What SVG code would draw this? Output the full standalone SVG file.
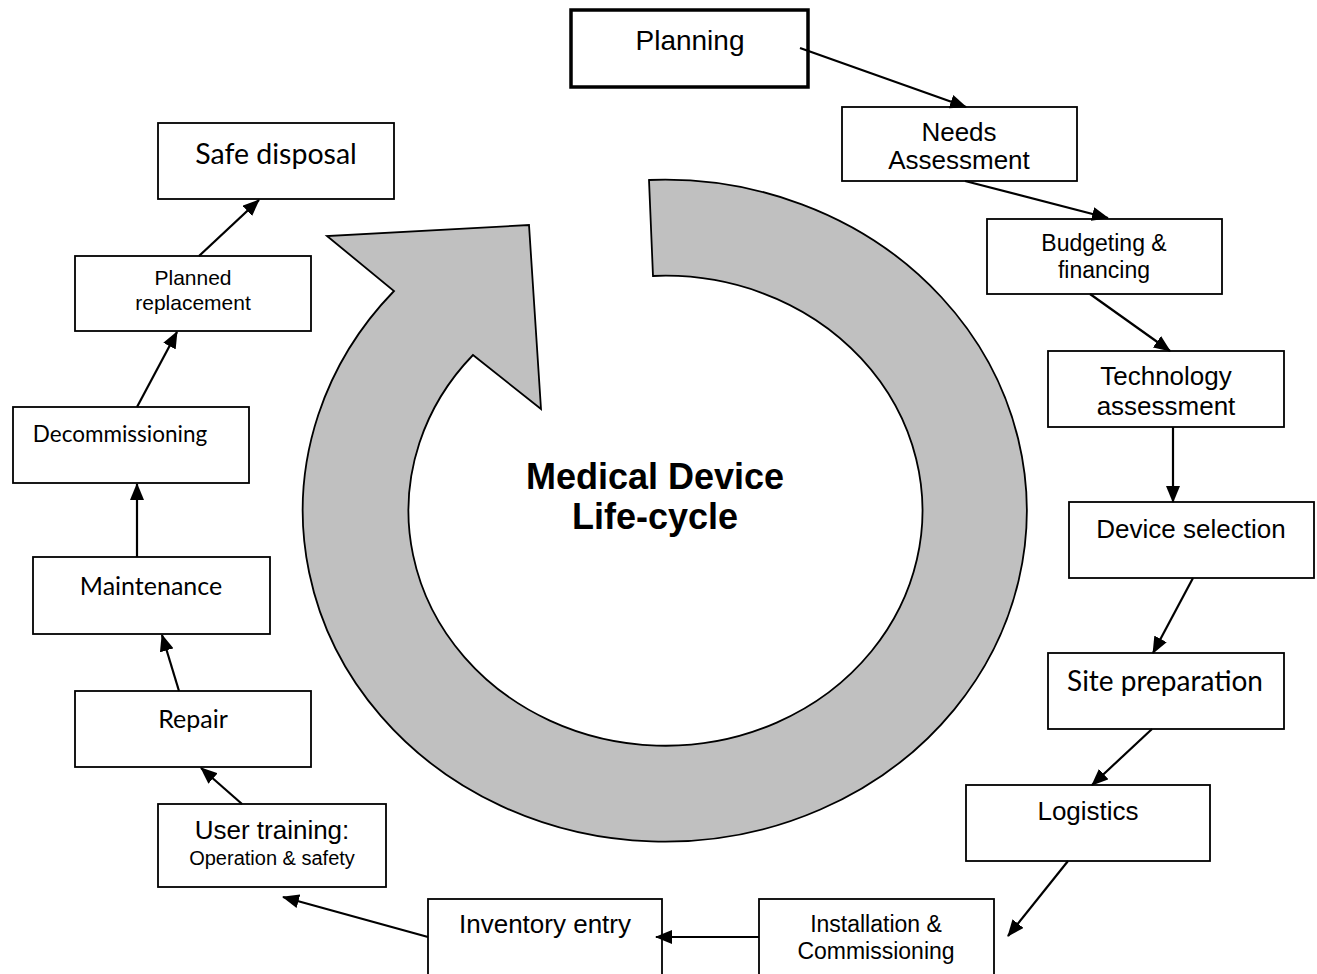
<svg xmlns="http://www.w3.org/2000/svg" width="1317" height="974" viewBox="0 0 1317 974">
<style>
.box{fill:#fff;stroke:#000;stroke-width:1.8}
.thick{fill:#fff;stroke:#000;stroke-width:3.5}
.a{font-family:"Liberation Sans",Arial,sans-serif;fill:#000;text-anchor:middle}
.c{font-family:Lato,"Open Sans",sans-serif;fill:#000;text-anchor:middle}
.title{font-family:"Liberation Sans",Arial,sans-serif;font-weight:bold;font-size:36px;fill:#000;text-anchor:middle}
.con line{stroke:#000;stroke-width:2.2;marker-end:url(#ah)}
</style>
<defs>
<marker id="ah" viewBox="0 0 17 14" refX="16" refY="7" markerWidth="17" markerHeight="14" markerUnits="userSpaceOnUse" orient="auto">
<path d="M0,0 L17,7 L0,14 z" fill="#000"/>
</marker>
</defs>
<rect width="1317" height="974" fill="#fff"/>
<g id="cycle-arrow">
<path d="M649,180 A362,331 0 1 1 394,291 L327,236 L529,225 L541,409 L473,355 A257,235 0 1 0 653,276 Z" fill="#c0c0c0" stroke="#000" stroke-width="1.8"/>
</g>
<g id="title">
<text class="title" x="655" y="489">Medical Device</text>
<text class="title" x="655" y="529">Life-cycle</text>
</g>
<g id="planning"><rect class="thick" x="571" y="10" width="237" height="77"/><text class="a" x="690" y="50" font-size="28">Planning</text></g>
<g id="needs"><rect class="box" x="842" y="107" width="235" height="74"/><text class="a" x="959" y="141" font-size="26">Needs</text><text class="a" x="959" y="169" font-size="26">Assessment</text></g>
<g id="budgeting"><rect class="box" x="987" y="219" width="235" height="75"/><text class="a" x="1104" y="251" font-size="23">Budgeting &amp;</text><text class="a" x="1104" y="278" font-size="23">financing</text></g>
<g id="technology"><rect class="box" x="1048" y="351" width="236" height="76"/><text class="a" x="1166" y="385" font-size="26">Technology</text><text class="a" x="1166" y="415" font-size="26">assessment</text></g>
<g id="device"><rect class="box" x="1069" y="502" width="245" height="76"/><text class="a" x="1191" y="538" font-size="26">Device selection</text></g>
<g id="site"><rect class="box" x="1048" y="653" width="236" height="76"/><text class="c" x="1165" y="691" font-size="28">Site preparation</text></g>
<g id="logistics"><rect class="box" x="966" y="785" width="244" height="76"/><text class="a" x="1088" y="820" font-size="26">Logistics</text></g>
<g id="installation"><rect class="box" x="759" y="899" width="235" height="85"/><text class="a" x="876" y="932" font-size="23">Installation &amp;</text><text class="a" x="876" y="959" font-size="23">Commissioning</text></g>
<g id="inventory"><rect class="box" x="428" y="899" width="234" height="85"/><text class="a" x="545" y="933" font-size="26">Inventory entry</text></g>
<g id="training"><rect class="box" x="158" y="804" width="228" height="83"/><text class="a" x="272" y="839" font-size="26">User training:</text><text class="a" x="272" y="865" font-size="20">Operation &amp; safety</text></g>
<g id="repair"><rect class="box" x="75" y="691" width="236" height="76"/><text class="c" x="193" y="728" font-size="25">Repair</text></g>
<g id="maintenance"><rect class="box" x="33" y="557" width="237" height="77"/><text class="c" x="151" y="595" font-size="25">Maintenance</text></g>
<g id="decommissioning"><rect class="box" x="13" y="407" width="236" height="76"/><text class="c" x="120" y="442" font-size="22.5">Decommissioning</text></g>
<g id="replacement"><rect class="box" x="75" y="256" width="236" height="75"/><text class="a" x="193" y="285" font-size="21">Planned</text><text class="a" x="193" y="310" font-size="21">replacement</text></g>
<g id="disposal"><rect class="box" x="158" y="123" width="236" height="76"/><text class="c" x="276" y="164" font-size="28.5">Safe disposal</text></g>
<g id="connectors" class="con">
<line x1="800" y1="48" x2="966" y2="107"/>
<line x1="965" y1="181" x2="1108" y2="218"/>
<line x1="1090" y1="294" x2="1170" y2="351"/>
<line x1="1173" y1="427" x2="1173" y2="502"/>
<line x1="1193" y1="578" x2="1153" y2="653"/>
<line x1="1152" y1="729" x2="1092" y2="785"/>
<line x1="1068" y1="861" x2="1008" y2="936"/>
<line x1="759" y1="937" x2="656" y2="937"/>
<line x1="428" y1="937" x2="283" y2="897"/>
<line x1="242" y1="804" x2="201" y2="768"/>
<line x1="179" y1="691" x2="162" y2="635"/>
<line x1="137" y1="557" x2="137" y2="484"/>
<line x1="137" y1="407" x2="177" y2="332"/>
<line x1="199" y1="256" x2="259" y2="200"/>
</g>
</svg>
